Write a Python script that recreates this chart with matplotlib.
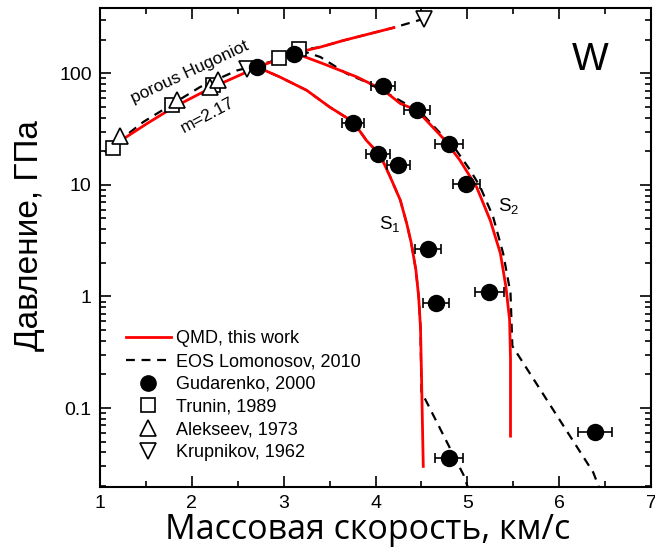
import numpy as np
import matplotlib.pyplot as plt
from matplotlib.lines import Line2D
from matplotlib.ticker import MultipleLocator, LogLocator, NullFormatter, FixedLocator

plt.rcParams['font.family'] = ['Liberation Sans', 'DejaVu Sans']
plt.rcParams['mathtext.fontset'] = 'custom'
plt.rcParams['mathtext.rm'] = 'Liberation Sans'
plt.rcParams['mathtext.it'] = 'Liberation Sans'

# experimental data (u, km/s ; P, GPa)
gud_u = [2.71, 3.11, 3.76, 4.03, 4.08, 4.25, 4.45, 4.80, 4.99, 4.57, 5.24, 4.66, 6.39, 4.80]
gud_p = [114, 150, 35.9, 19.1, 76.5, 15.0, 47.3, 23.5, 10.1, 2.66, 1.10, 0.867, 0.0615, 0.0355]
gud_err = [0, 0, 0.12, 0.13, 0.13, 0.13, 0.14, 0.15, 0.15, 0.14, 0.16, 0.14, 0.19, 0.15]

trunin_u = [1.14, 1.78, 2.23, 2.95, 3.17]
trunin_p = [21.4, 51.7, 78, 137, 166]

alek_u = [1.22, 1.84, 2.20, 2.29]
alek_p = [27.5, 58, 76, 86.5]

krup_u = [2.60, 4.53]
krup_p = [110, 309]

# QMD curves
qmd_hug_u = [1.25, 1.51, 1.80, 2.20, 2.71, 3.11, 3.40, 3.65, 4.20]
qmd_hug_p = [25.7, 35.4, 49.6, 73.4, 113, 151, 172, 197, 257]
qmd_s1_u = [2.71, 2.96, 3.25, 3.50, 3.76, 3.90, 4.05, 4.16, 4.27, 4.34, 4.39, 4.44,
            4.47, 4.49, 4.50, 4.52]
qmd_s1_p = [114, 92.6, 70.5, 49.9, 36.6, 25.1, 18.5, 11.8, 7.3, 4.5, 3.0, 1.72,
            0.99, 0.52, 0.21, 0.030]
qmd_s2_u = [3.12, 3.43, 3.80, 4.09, 4.27, 4.45, 4.74, 4.92, 5.10, 5.25, 5.36, 5.42,
            5.46, 5.47, 5.47]
qmd_s2_p = [152, 122, 92.6, 70.4, 53.6, 46.7, 26.0, 16.6, 9.6, 4.8, 2.43, 1.22,
            0.62, 0.28, 0.056]

# EOS Lomonosov curves
eos_hug_u = [1.05, 1.47, 2.09, 2.49, 2.92, 3.18, 3.40, 3.65, 4.20, 4.53]
eos_hug_p = [19.7, 36.6, 75.4, 106, 131, 161, 172, 197, 257, 309]
eos_s1_u = [2.71, 2.96, 3.25, 3.50, 3.76, 3.90, 4.05, 4.16, 4.27, 4.34, 4.39, 4.44,
            4.47, 4.49, 4.50, 4.96, 5.02]
eos_s1_p = [114, 92.6, 70.5, 49.9, 36.6, 25.1, 18.5, 11.8, 7.3, 4.5, 3.0, 1.72,
            0.99, 0.52, 0.14, 0.025, 0.018]
eos_s2_u = [3.18, 3.40, 3.69, 3.90, 4.23, 4.49, 4.88, 5.03, 5.14, 5.28, 5.39, 5.47,
            5.49, 6.37, 6.45]
eos_s2_p = [161, 140, 99, 83.6, 59.3, 45, 20.4, 13.6, 9.6, 5.2, 2.43, 1.07,
            0.36, 0.0266, 0.018]

fig = plt.figure(figsize=(6.55, 5.49), dpi=100)
ax = fig.add_axes([0.1527, 0.1129, 0.8412, 0.8725])

red = '#ff0000'
dash = (0, (4, 3))
for u, p in [(eos_hug_u, eos_hug_p), (eos_s1_u, eos_s1_p), (eos_s2_u, eos_s2_p)]:
    ax.plot(u, p, color='black', lw=1.6, ls=dash, zorder=2)
for u, p in [(qmd_hug_u, qmd_hug_p), (qmd_s1_u, qmd_s1_p), (qmd_s2_u, qmd_s2_p)]:
    ax.plot(u, p, color=red, lw=2.0, zorder=3)

ax.errorbar(gud_u, gud_p, xerr=gud_err, fmt='o', color='black', ms=11.5,
            capsize=3.5, elinewidth=1.2, capthick=1.2, zorder=5)
ax.plot(trunin_u, trunin_p, 's', ms=9.5, mfc='white', mec='black', mew=1.2, zorder=4)
ax.plot(alek_u, alek_p, '^', ms=11.5, mfc='white', mec='black', mew=1.2, zorder=4)
ax.plot(krup_u, krup_p, 'v', ms=11.5, mfc='white', mec='black', mew=1.2, zorder=4)

ax.set_yscale('log')
ax.set_xlim(1, 7)
ax.set_ylim(0.0196, 385)
ax.xaxis.set_major_locator(MultipleLocator(1))
ax.xaxis.set_minor_locator(MultipleLocator(0.5))
ax.yaxis.set_major_locator(FixedLocator([0.1, 1, 10, 100]))
ax.yaxis.set_major_formatter(plt.FuncFormatter(lambda v, _: '%g' % v))
ax.yaxis.set_minor_locator(LogLocator(base=10, subs=np.arange(2, 10)))
ax.yaxis.set_minor_formatter(NullFormatter())
ax.tick_params(which='both', direction='in', top=True, right=True, width=1.2)
ax.tick_params(which='major', length=8, labelsize=14, pad=6)
ax.tick_params(which='minor', length=4)
for s in ax.spines.values():
    s.set_linewidth(1.5)

ax.set_xlabel('Массовая скорость, км/с', fontsize=24.5, family=['Open Sans', 'DejaVu Sans'])
ax.set_ylabel('Давление, ГПа', fontsize=24)
ax.xaxis.set_label_coords(0.485, -0.055)
ax.yaxis.set_label_coords(-0.1, 0.526)

ax.text(1.98, 102, 'porous Hugoniot', fontsize=12.5, rotation=25, ha='center', va='center')
ax.text(2.17, 42, 'm=2.17', fontsize=12.5, rotation=28, ha='center', va='center')
ax.text(6.34, 133, 'W', fontsize=28, ha='center', va='center')
ax.text(4.16, 4.45, 'S$_1$', fontsize=13.5, ha='center', va='center')
ax.text(5.45, 6.45, 'S$_2$', fontsize=13.5, ha='center', va='center')

handles = [
    Line2D([], [], color=red, lw=2.0),
    Line2D([], [], color='black', lw=1.6, ls=dash),
    Line2D([], [], marker='o', ls='none', color='black', ms=11),
    Line2D([], [], marker='s', ls='none', mfc='white', mec='black', ms=9.5, mew=1.2),
    Line2D([], [], marker='^', ls='none', mfc='white', mec='black', ms=11, mew=1.2),
    Line2D([], [], marker='v', ls='none', mfc='white', mec='black', ms=11, mew=1.2),
]
labels = ['QMD, this work', 'EOS Lomonosov, 2010', 'Gudarenko, 2000',
          'Trunin, 1989', 'Alekseev, 1973', 'Krupnikov, 1962']
ax.legend(handles, labels, loc='lower left', bbox_to_anchor=(0.03, 0.035), frameon=False,
          fontsize=13, handlelength=2.5, handletextpad=0.3, labelspacing=0.32, borderpad=0)

fig.savefig('out.png', dpi=100)
